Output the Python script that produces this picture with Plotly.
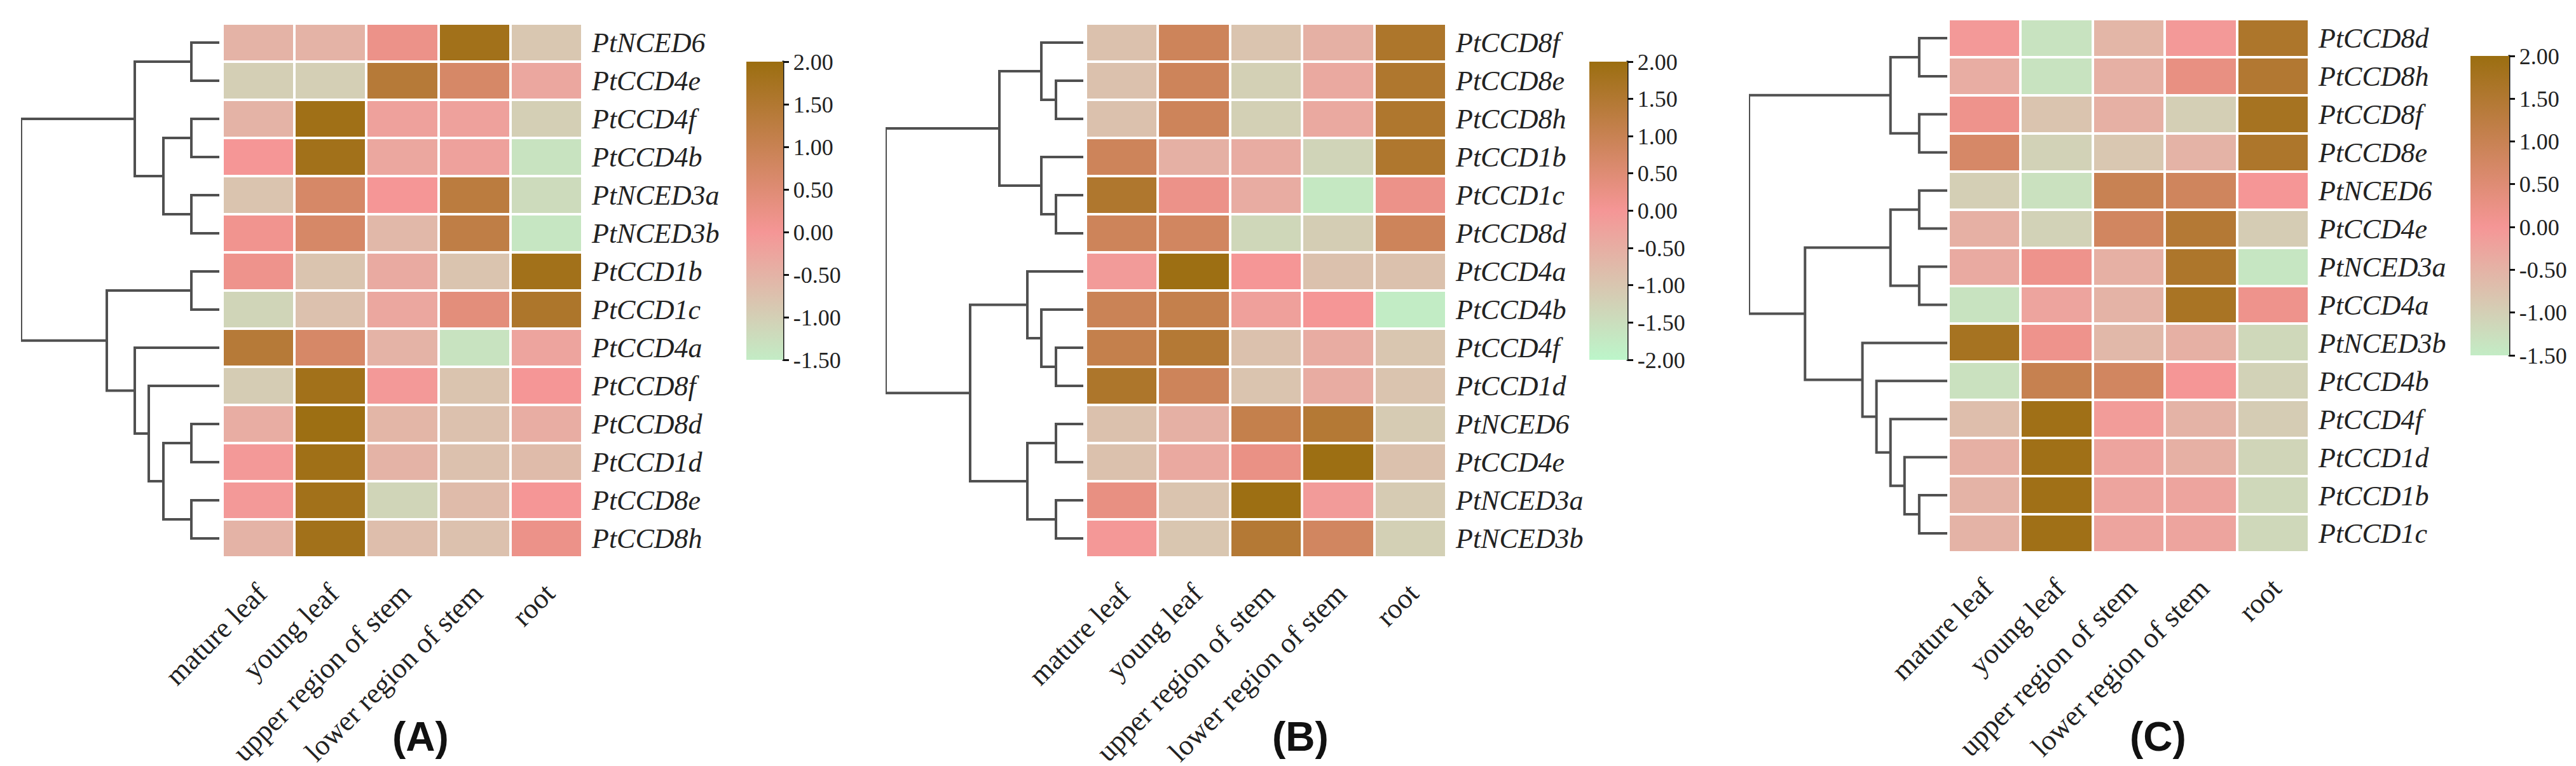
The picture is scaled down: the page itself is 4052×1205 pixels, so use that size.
import plotly.graph_objects as go

W, H = 4052, 1205

tissues = ["mature leaf", "young leaf", "upper region of stem", "lower region of stem", "root"]

# ---------------- Panel A ----------------
genes_A = ["PtNCED6", "PtCCD4e", "PtCCD4f", "PtCCD4b", "PtNCED3a", "PtNCED3b", "PtCCD1b",
           "PtCCD1c", "PtCCD4a", "PtCCD8f", "PtCCD8d", "PtCCD1d", "PtCCD8e", "PtCCD8h"]
values_A = [
    [-0.50, -0.50, 0.20, 1.85, -0.85],
    [-1.00, -1.00, 1.40, 0.70, -0.30],
    [-0.50, 1.90, -0.20, -0.20, -1.00],
    [0.00, 1.85, -0.30, -0.20, -1.35],
    [-0.80, 0.70, 0.00, 1.30, -1.20],
    [0.10, 0.70, -0.60, 1.20, -1.40],
    [0.15, -0.80, -0.35, -0.80, 1.85],
    [-1.10, -0.75, -0.30, 0.40, 1.60],
    [1.40, 0.70, -0.50, -1.35, -0.25],
    [-0.95, 1.85, -0.05, -0.80, 0.00],
    [-0.40, 1.95, -0.55, -0.75, -0.40],
    [-0.05, 1.90, -0.50, -0.75, -0.65],
    [-0.05, 1.85, -1.10, -0.65, 0.00],
    [-0.50, 1.85, -0.70, -0.75, 0.20],
]
# linkage: (child a, child b, height); children >= 14 refer to earlier merges
tree_A = [(0, 1, 44), (2, 3, 44), (4, 5, 44), (15, 16, 88), (14, 17, 133), (6, 7, 44),
          (10, 11, 44), (12, 13, 44), (20, 21, 88), (9, 22, 111), (8, 23, 133),
          (19, 24, 177), (18, 25, 312)]
ticks_A = [2.0, 1.5, 1.0, 0.5, 0.0, -0.5, -1.0, -1.5]

# ---------------- Panel B ----------------
genes_B = ["PtCCD8f", "PtCCD8e", "PtCCD8h", "PtCCD1b", "PtCCD1c", "PtCCD8d", "PtCCD4a",
           "PtCCD4b", "PtCCD4f", "PtCCD1d", "PtNCED6", "PtCCD4e", "PtNCED3a", "PtNCED3b"]
values_B = [
    [-0.90, 0.90, -0.95, -0.55, 1.60],
    [-0.90, 0.90, -1.20, -0.40, 1.55],
    [-0.90, 0.90, -1.20, -0.40, 1.55],
    [0.90, -0.55, -0.45, -1.30, 1.55],
    [1.55, 0.20, -0.45, -1.70, 0.20],
    [0.90, 0.80, -1.35, -1.15, 0.90],
    [-0.10, 1.95, 0.00, -0.90, -0.90],
    [0.95, 1.10, -0.20, 0.00, -1.80],
    [1.10, 1.45, -0.90, -0.45, -1.00],
    [1.60, 0.90, -0.95, -0.45, -0.95],
    [-0.90, -0.55, 1.10, 1.45, -1.10],
    [-0.90, -0.40, 0.25, 1.95, -0.90],
    [0.30, -0.95, 1.95, -0.10, -1.10],
    [-0.05, -1.00, 1.45, 0.80, -1.20],
]
tree_B = [(1, 2, 43), (0, 14, 66), (4, 5, 43), (3, 16, 66), (15, 17, 132), (8, 9, 43),
          (7, 19, 66), (6, 20, 88), (10, 11, 43), (12, 13, 43), (22, 23, 88),
          (21, 24, 178), (18, 25, 311)]
ticks_B = [2.0, 1.5, 1.0, 0.5, 0.0, -0.5, -1.0, -1.5, -2.0]

# ---------------- Panel C ----------------
genes_C = ["PtCCD8d", "PtCCD8h", "PtCCD8f", "PtCCD8e", "PtNCED6", "PtCCD4e", "PtNCED3a",
           "PtCCD4a", "PtNCED3b", "PtCCD4b", "PtCCD4f", "PtCCD1d", "PtCCD1b", "PtCCD1c"]
values_C = [
    [-0.05, -1.35, -0.55, -0.05, 1.60],
    [-0.40, -1.35, -0.45, 0.30, 1.50],
    [0.15, -0.80, -0.45, -1.00, 1.75],
    [0.70, -1.05, -0.85, -0.50, 1.60],
    [-1.00, -1.30, 1.00, 0.85, 0.00],
    [-0.45, -1.05, 0.80, 1.45, -0.95],
    [-0.35, 0.15, -0.45, 1.60, -1.40],
    [-1.35, -0.25, -0.50, 1.70, 0.15],
    [1.75, 0.15, -0.60, -0.45, -1.15],
    [-1.30, 1.05, 0.80, 0.00, -1.05],
    [-0.70, 1.90, -0.10, -0.50, -0.95],
    [-0.45, 1.90, -0.25, -0.45, -1.10],
    [-0.50, 1.90, -0.25, -0.25, -1.15],
    [-0.50, 1.90, -0.25, -0.25, -1.15],
]
tree_C = [(0, 1, 44), (2, 3, 44), (14, 15, 89), (4, 5, 44), (6, 7, 44), (17, 18, 89),
          (12, 13, 44), (11, 20, 67), (10, 21, 89), (9, 22, 111), (8, 23, 133),
          (19, 24, 223), (16, 25, 311)]
ticks_C = [2.0, 1.5, 1.0, 0.5, 0.0, -0.5, -1.0, -1.5]

panel_labels = ["(A)", "(B)", "(C)"]

# ---------------- styling / layout (pixels) ----------------
panels = [
    dict(genes=genes_A, z=values_A, tree=tree_A, ticks=ticks_A, zmin=-1.5, zmax=2.0,
         low="rgb(195,236,197)", dendro=(25, 337), heat=(342, 908), top=29, bottom=869,
         cbx=(1166, 1224), cby=(89, 558), lab=(653, 1151)),
    dict(genes=genes_B, z=values_B, tree=tree_B, ticks=ticks_B, zmin=-2.0, zmax=2.0,
         low="rgb(188,246,202)", dendro=(1385, 1696), heat=(1700, 2267), top=29, bottom=869,
         cbx=(2492, 2552), cby=(89, 558), lab=(2037, 1151)),
    dict(genes=genes_C, z=values_C, tree=tree_C, ticks=ticks_C, zmin=-1.5, zmax=2.0,
         low="rgb(195,236,197)", dendro=(2743, 3055), heat=(3057, 3624), top=22, bottom=861,
         cbx=(3878, 3939), cby=(80, 551), lab=(3386, 1151)),
]

PINK = "rgb(245,150,150)"
BROWN = "rgb(155,110,16)"
LINE = "#505050"
SERIF = "Liberation Serif"


def px_x(p):
    return p / W


def px_y(p):
    return 1 - p / H


def dendro_lines(tree, n):
    ypos = {i: float(i) for i in range(n)}
    hgt = {i: 0.0 for i in range(n)}
    xs, ys = [], []
    for k, (a, b, h) in enumerate(tree):
        idx = n + k
        xs += [hgt[a], h, h, hgt[b], None]
        ys += [ypos[a], ypos[a], ypos[b], ypos[b], None]
        ypos[idx] = (ypos[a] + ypos[b]) / 2
        hgt[idx] = h
    return xs, ys


fig = go.Figure()
layout = dict(width=W, height=H, margin=dict(l=0, r=0, t=0, b=0, autoexpand=False),
              paper_bgcolor="white", plot_bgcolor="white", showlegend=False,
              annotations=[], shapes=[])

for i, p in enumerate(panels):
    hx = 2 * i + 1
    dx = 2 * i + 2
    n = len(p["genes"])
    mid = (0 - p["zmin"]) / (p["zmax"] - p["zmin"])
    cs = [[0, p["low"]], [mid, PINK], [1, BROWN]]
    cb_len = p["cby"][1] - p["cby"][0]
    fig.add_trace(go.Heatmap(
        z=p["z"], x=tissues, y=p["genes"], zmin=p["zmin"], zmax=p["zmax"],
        colorscale=cs, xgap=4, ygap=4,
        xaxis=f"x{hx}", yaxis=f"y{hx}",
        colorbar=dict(
            x=px_x(p["cbx"][0]), xanchor="left", xpad=0, ypad=0,
            y=px_y((p["cby"][0] + p["cby"][1]) / 2), yanchor="middle",
            len=cb_len, lenmode="pixels", thickness=p["cbx"][1] - p["cbx"][0],
            thicknessmode="pixels", outlinewidth=0,
            tickvals=p["ticks"], ticktext=[f"{t:.2f}" for t in p["ticks"]],
            ticks="outside", ticklen=9, tickwidth=3, tickcolor="#111",
            tickfont=dict(family=SERIF, size=36, color="#222"),
        ),
    ))
    xs, ys = dendro_lines(p["tree"], n)
    max_h = max(t[2] for t in p["tree"])
    fig.add_trace(go.Scatter(x=xs, y=ys, mode="lines",
                             line=dict(color=LINE, width=4),
                             xaxis=f"x{dx}", yaxis=f"y{dx}", hoverinfo="skip"))
    ydom = [px_y(p["bottom"]), px_y(p["top"])]
    layout[f"xaxis{hx}"] = dict(domain=[px_x(p["heat"][0]), px_x(p["heat"][1])],
                                anchor=f"y{hx}", tickangle=-45, showgrid=False,
                                zeroline=False, showline=False, ticks="",
                                ticklabelstandoff=20, automargin=False,
                                tickfont=dict(family=SERIF, size=45, color="#222"))
    layout[f"yaxis{hx}"] = dict(domain=ydom, anchor=f"x{hx}", side="right",
                                range=[n - 0.5, -0.5], showgrid=False, zeroline=False,
                                showline=False, ticks="", ticklabelstandoff=14,
                                automargin=False,
                                tickfont=dict(family=SERIF, size=44, color="#222",
                                              style="italic"))
    layout[f"xaxis{dx}"] = dict(domain=[px_x(p["dendro"][0]), px_x(p["dendro"][1])],
                                anchor=f"y{dx}", range=[max_h, 0], visible=False,
                                automargin=False)
    layout[f"yaxis{dx}"] = dict(domain=ydom, anchor=f"x{dx}", range=[n - 0.5, -0.5],
                                visible=False, automargin=False)
    layout["shapes"].append(dict(type="line", xref="paper", yref="paper",
                                 x0=px_x(p["cbx"][1]), x1=px_x(p["cbx"][1]),
                                 y0=px_y(p["cby"][0]) + 1.5 / H,
                                 y1=px_y(p["cby"][1]) - 1.5 / H,
                                 line=dict(color="#111", width=3)))
    layout["annotations"].append(dict(text=f"<b>{panel_labels[i]}</b>", xref="paper",
                                      yref="paper", x=px_x(p["lab"][0]),
                                      y=px_y(p["lab"][1]), xanchor="center",
                                      yanchor="middle", showarrow=False,
                                      font=dict(family="Liberation Sans", size=64,
                                                color="#111")))

fig.update_layout(**layout)
fig.write_html("out.html")
